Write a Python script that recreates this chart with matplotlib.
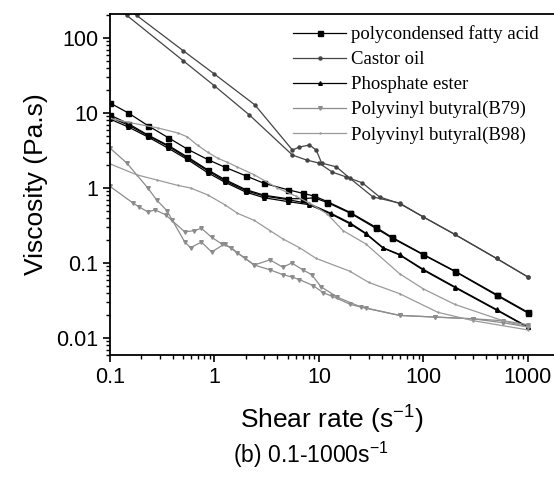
import matplotlib
matplotlib.use("Agg")
import matplotlib.pyplot as plt
from matplotlib.ticker import LogLocator, NullFormatter, FixedLocator, FixedFormatter

# ---- data ----
# Polycondensed fatty acid (two sweeps)
pfa1_x = [0.1, 0.15, 0.23, 0.36, 0.55, 0.86, 1.25, 2, 3, 5, 7, 9, 12, 20, 35, 50, 100, 200, 500, 1000]
pfa1_y = [13.6, 10, 6.8, 4.7, 3.3, 2.4, 1.9, 1.45, 1.15, 0.95, 0.85, 0.78, 0.66, 0.47, 0.3, 0.22, 0.13, 0.078, 0.038, 0.022]
pfa2_x = [0.1, 0.15, 0.23, 0.36, 0.55, 0.86, 1.25, 2, 3, 5, 7, 9, 12, 20, 35, 50, 100, 200, 500, 1000]
pfa2_y = [9.4, 7.2, 5.1, 3.7, 2.6, 1.75, 1.3, 0.95, 0.8, 0.72, 0.72, 0.74, 0.64, 0.46, 0.29, 0.215, 0.128, 0.077, 0.037, 0.0215]

# Castor oil (two sweeps)
co1_x = [0.1, 0.18, 0.5, 1, 2.44, 5.57, 6.5, 8.1, 9.4, 10.6, 14.7, 19.6, 32.8, 59, 100, 200, 500, 1000]
co1_y = [370, 200, 68, 33, 12.8, 3.21, 3.52, 3.74, 3.21, 2.15, 1.91, 1.36, 0.76, 0.63, 0.41, 0.24, 0.115, 0.065]
co2_x = [0.1, 0.145, 0.5, 1, 2.16, 5.57, 7.6, 10, 13.4, 18.3, 26, 38, 59, 100, 200, 500, 1000]
co2_y = [303, 200, 50, 23, 9.4, 2.75, 2.36, 2.15, 1.63, 1.40, 1.17, 0.76, 0.62, 0.41, 0.24, 0.115, 0.065]

# Phosphate ester (two sweeps)
pe1_x = [0.1, 0.15, 0.23, 0.36, 0.55, 0.86, 1.25, 2, 3, 5, 8, 13, 20, 28, 41, 59, 100, 200, 500, 1000]
pe1_y = [8.8, 6.9, 5.0, 3.6, 2.5, 1.7, 1.25, 0.92, 0.78, 0.7, 0.62, 0.46, 0.34, 0.25, 0.16, 0.13, 0.082, 0.048, 0.024, 0.014]
pe2_x = [0.1, 0.15, 0.23, 0.36, 0.55, 0.86, 1.25, 2, 3, 5, 8, 13, 20, 28, 41, 59, 100, 200, 500, 1000]
pe2_y = [8.3, 6.5, 4.8, 3.4, 2.4, 1.6, 1.2, 0.88, 0.74, 0.66, 0.6, 0.45, 0.33, 0.245, 0.158, 0.128, 0.08, 0.047, 0.0235, 0.0138]

# Polyvinyl butyral (B79) (two sweeps)
b79a_x = [0.1, 0.145, 0.23, 0.28, 0.35, 0.52, 0.59, 0.75, 0.94, 1.25, 1.94, 2.4, 3.4, 4.5, 5.5, 6.5, 8.8, 11, 13.4, 20, 28, 59, 130, 300, 575, 1000]
b79a_y = [3.4, 2.15, 1.0, 0.69, 0.5, 0.19, 0.16, 0.19, 0.14, 0.18, 0.117, 0.094, 0.081, 0.07, 0.065, 0.06, 0.05, 0.04, 0.036, 0.028, 0.025, 0.02, 0.019, 0.018, 0.016, 0.014]
b79b_x = [0.1, 0.166, 0.19, 0.23, 0.27, 0.34, 0.39, 0.52, 0.64, 0.75, 0.94, 1.17, 1.45, 1.66, 2.4, 3.4, 4.5, 5.5, 7, 8.5, 10.5, 15, 25, 59, 130, 300, 575, 1000]
b79b_y = [1.05, 0.63, 0.56, 0.48, 0.51, 0.44, 0.37, 0.26, 0.27, 0.29, 0.22, 0.18, 0.16, 0.136, 0.094, 0.11, 0.088, 0.1, 0.081, 0.07, 0.048, 0.035, 0.026, 0.02, 0.019, 0.018, 0.017, 0.015]

# Polyvinyl butyral (B98) (two sweeps)
b98a_x = [0.1, 0.15, 0.29, 0.45, 0.55, 0.69, 0.86, 1.07, 1.33, 1.66, 2.4, 4, 6, 8.1, 12, 17, 28, 59, 100, 200, 575, 1000]
b98a_y = [8.5, 7.5, 6.3, 5.4, 4.8, 3.7, 3.0, 2.5, 2.2, 1.9, 1.5, 1.0, 0.78, 0.63, 0.45, 0.27, 0.18, 0.072, 0.045, 0.028, 0.017, 0.014]
b98b_x = [0.1, 0.18, 0.28, 0.45, 0.59, 0.86, 1.25, 1.66, 2.4, 3.4, 4.5, 6.5, 9.4, 19.6, 30, 59, 137, 300, 1000]
b98b_y = [2.1, 1.5, 1.28, 1.08, 1.0, 0.81, 0.6, 0.46, 0.37, 0.27, 0.21, 0.16, 0.115, 0.078, 0.055, 0.039, 0.022, 0.017, 0.0128]

labels = ["polycondensed fatty acid", "Castor oil", "Phosphate ester",
          "Polyvinyl butyral(B79)", "Polyvinyl butyral(B98)"]

x_ticks = [0.1, 1, 10, 100, 1000]
x_ticklabels = ["0.1", "1", "10", "100", "1000"]
y_ticks = [0.01, 0.1, 1, 10, 100]
y_ticklabels = ["0.01", "0.1", "1", "10", "100"]

# ---- figure ----
fig = plt.figure(figsize=(5.54, 4.8), dpi=100)
ax = fig.add_axes([110 / 554, 1 - 355 / 480, 1 - 110 / 554, (355 - 14) / 480])

sty_pfa = dict(color="black", marker="s", ms=3.6, lw=0.9, mec="black")
sty_co = dict(color="#444444", marker="o", ms=2.2, lw=0.9)
sty_pe = dict(color="black", marker="^", ms=2.6, lw=0.9)
sty_b79 = dict(color="#8c8c8c", marker="v", ms=2.6, lw=0.9)
sty_b98 = dict(color="#9a9a9a", marker="+", ms=2.0, lw=0.9)

ax.plot(pfa1_x, pfa1_y, label=labels[0], **sty_pfa)
ax.plot(pfa2_x, pfa2_y, **sty_pfa)
ax.plot(co1_x, co1_y, label=labels[1], **sty_co)
ax.plot(co2_x, co2_y, **sty_co)
ax.plot(pe1_x, pe1_y, label=labels[2], **sty_pe)
ax.plot(pe2_x, pe2_y, **sty_pe)
ax.plot(b79a_x, b79a_y, label=labels[3], **sty_b79)
ax.plot(b79b_x, b79b_y, **sty_b79)
ax.plot(b98a_x, b98a_y, label=labels[4], **sty_b98)
ax.plot(b98b_x, b98b_y, **sty_b98)

ax.set_xscale("log")
ax.set_yscale("log")
ax.set_xlim(0.1, 1774)
ax.set_ylim(0.00593, 209)

ax.xaxis.set_major_locator(FixedLocator(x_ticks))
ax.xaxis.set_major_formatter(FixedFormatter(x_ticklabels))
ax.yaxis.set_major_locator(FixedLocator(y_ticks))
ax.yaxis.set_major_formatter(FixedFormatter(y_ticklabels))
ax.xaxis.set_minor_locator(LogLocator(base=10, subs=range(2, 10), numticks=20))
ax.yaxis.set_minor_locator(LogLocator(base=10, subs=range(2, 10), numticks=20))
ax.xaxis.set_minor_formatter(NullFormatter())
ax.yaxis.set_minor_formatter(NullFormatter())

ax.tick_params(which="major", direction="out", length=5, width=1.2,
               labelsize=15.5, top=False, right=False)
ax.tick_params(which="minor", direction="out", length=3, width=1.0,
               top=False, right=False)
for lab in ax.get_xticklabels() + ax.get_yticklabels():
    lab.set_family("Liberation Sans")

ax.spines["right"].set_visible(False)
for s in ["left", "bottom", "top"]:
    ax.spines[s].set_linewidth(1.3)

ax.set_xlabel("Shear rate (s$^{\\mathregular{-1}}$)", fontsize=19,
              family="Liberation Sans", labelpad=10)
ax.set_ylabel("Viscosity (Pa.s)", fontsize=19, family="Liberation Sans", labelpad=6)

leg = ax.legend(loc="upper right", bbox_to_anchor=(0.99, 1.0), frameon=False,
                prop={"family": "Liberation Serif", "size": 13.5},
                handlelength=2.8, handletextpad=0.25, labelspacing=0.42,
                borderaxespad=0.2)

fig.text(311 / 554, 1 - 455 / 480, "(b) 0.1-1000s$^{\\mathregular{-1}}$",
         ha="center", va="center", fontsize=16.5, family="Liberation Sans")

fig.savefig("out.png", dpi=100)
